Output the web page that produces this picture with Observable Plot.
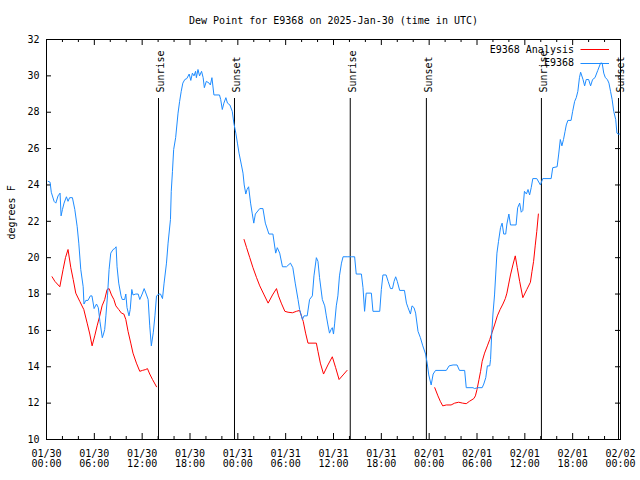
<!DOCTYPE html>
<html><head><meta charset="utf-8">
<script src="https://cdn.jsdelivr.net/npm/d3@7"></script>
<script src="https://cdn.jsdelivr.net/npm/@observablehq/plot@0.6"></script>
<style>html,body{margin:0;padding:0;background:#fff} svg{display:block}</style>
</head><body><div id="chart"></div>
<script>
const title = "Dew Point for E9368 on 2025-Jan-30 (time in UTC)";
const yLabel = "degrees F";
const startUTC = Date.UTC(2025, 0, 30);

// observed (hours since 01/30 00:00 UTC)
const obsHours = [0.2,0.45,0.6,0.95,1.17,1.45,1.7,1.83,2.0,2.2,2.5,2.7,2.9,3.25,3.55,3.85,4.05,4.3,4.6,4.7,4.93,5.2,5.5,5.7,5.97,6.27,6.5,6.7,7.0,7.15,7.3,7.45,7.65,7.85,8.06,8.35,8.56,8.73,8.85,9.06,9.35,9.5,9.8,9.95,10.1,10.35,10.5,10.7,10.85,11.2,11.5,11.7,12.0,12.25,12.55,12.75,12.95,13.15,13.4,13.6,13.8,14.1,14.3,14.55,14.75,15.05,15.25,15.55,15.65,15.8,15.95,16.2,16.5,16.7,16.9,17.1,17.35,17.6,17.9,18.1,18.3,18.5,18.7,18.8,19.0,19.2,19.45,19.65,19.8,20.05,20.4,20.55,20.75,21.0,21.7,21.85,22.05,22.25,22.5,22.7,23.0,23.3,23.5,23.75,23.95,24.15,24.45,24.65,24.8,25.0,25.15,25.35,25.6,25.8,26.0,26.2,26.75,27.15,27.45,27.9,28.4,28.75,28.95,29.25,29.6,30.1,30.6,30.9,31.2,31.55,31.75,32.1,32.3,32.7,33.0,33.35,33.55,33.85,34.05,34.25,34.6,34.9,35.1,35.3,35.5,35.7,35.85,36.0,36.15,36.35,36.55,36.75,37.0,37.2,37.8,38.25,38.65,38.85,39.5,39.7,39.9,40.1,40.75,40.95,41.8,42.0,42.2,42.6,42.85,43.15,43.4,43.6,43.8,44.0,44.3,44.9,45.15,45.35,45.65,45.85,46.1,46.3,46.6,46.9,47.2,47.55,47.75,47.95,48.25,48.5,48.8,50.15,50.5,51.0,51.5,51.8,52.45,52.65,53.5,53.7,54.1,54.65,54.85,55.1,55.3,55.6,55.7,55.85,56.0,56.2,56.35,56.5,56.7,56.95,57.15,57.35,57.6,57.75,58.0,58.2,58.9,59.1,59.35,59.55,59.75,59.95,60.2,60.4,60.6,60.8,61.0,61.5,61.95,62.25,63.3,63.5,64.05,64.25,64.45,64.65,64.85,65.05,65.2,65.4,65.8,66.0,66.25,66.45,66.65,66.85,67.0,67.3,67.5,67.7,68.0,68.25,68.5,68.8,69.15,69.5,69.7,69.9,70.1,70.35,70.55,70.75,70.95,71.15,71.4,71.55,71.7,71.9];
const obsValues = [24.2,24.15,23.6,23.1,23.0,23.4,23.55,22.3,22.65,23.0,23.35,23.1,23.3,23.3,22.65,21.7,20.8,19.35,18.4,17.45,17.65,17.65,17.9,17.9,17.2,17.45,17.25,16.5,15.6,15.8,16.05,16.8,17.9,19.35,20.25,20.45,20.5,20.6,19.5,18.6,17.9,17.7,17.7,18.0,17.25,16.8,17.15,18.25,17.95,18.0,18.0,17.7,18.0,18.3,17.95,17.7,16.25,15.15,15.9,16.8,17.9,18.0,18.0,17.75,18.6,19.7,20.8,22.1,23.65,24.75,25.95,26.6,27.95,28.6,29.15,29.6,29.8,29.85,30.1,29.75,30.15,30.0,30.25,29.9,30.35,30.0,30.25,29.9,29.35,29.7,29.6,29.5,29.9,28.95,28.95,28.7,28.15,28.5,28.8,28.5,28.4,28.05,27.4,26.85,26.3,25.75,25.1,24.65,24.0,23.5,23.75,23.9,23.0,22.45,21.9,22.4,22.7,22.7,21.9,21.3,21.3,20.25,20.55,20.25,19.5,19.5,19.7,19.45,18.6,17.7,17.15,16.6,16.8,16.8,17.7,17.9,19.0,20.0,19.8,18.9,17.7,17.35,16.8,16.3,15.85,16.05,16.15,15.8,16.4,17.35,17.9,19.0,19.7,20.05,20.05,20.05,20.05,19.1,19.1,18.35,17.05,18.05,18.05,17.05,17.05,18.25,19.05,19.05,18.7,18.3,18.3,18.7,18.95,18.7,18.2,18.2,17.5,17.25,16.9,17.35,17.25,16.95,15.95,15.6,15.15,14.7,14.2,13.55,13.0,13.6,13.8,13.8,14.05,14.1,14.1,13.8,13.8,12.85,12.85,12.8,12.85,12.85,13.05,13.4,14.05,14.05,14.4,15.85,16.9,17.95,19.1,20.25,20.9,21.65,21.9,21.3,21.3,21.85,22.4,21.8,21.8,22.75,23.0,22.5,22.6,23.65,23.5,23.75,23.45,23.85,24.35,24.35,24.0,24.35,24.35,24.95,25.0,25.7,26.5,26.15,26.5,26.95,27.3,27.55,27.55,28.05,28.6,28.8,29.15,29.9,30.2,29.8,29.45,29.8,29.8,29.45,29.8,29.9,30.3,30.7,30.7,30.15,29.9,29.8,29.6,29.15,28.7,28.05,27.6,26.85,26.8,26.8];

// analysis (null marks a gap)
const anaHours = [0.7,1.05,1.67,2.08,2.38,2.7,3.05,3.35,3.67,4.17,4.68,5.1,5.43,5.72,6.05,6.35,6.68,6.97,7.3,7.6,7.85,8.15,8.45,8.7,9.06,9.4,9.7,9.95,10.23,10.57,10.85,11.28,11.7,12.03,12.45,12.66,12.95,13.3,13.8,19,24.78,25.1,25.5,25.9,26.35,26.75,27.3,27.8,28.35,28.85,29.1,29.45,29.9,30.3,30.85,31.35,31.75,31.9,32.2,32.5,32.8,33.85,34.05,34.35,34.75,35.3,35.85,36.27,36.7,37.2,37.7,43,48.7,49.1,49.4,49.7,50.15,50.75,51.2,51.7,52.2,52.65,53.05,53.6,53.8,54.0,54.25,54.45,54.65,54.95,55.3,55.6,55.9,56.2,56.55,56.9,57.25,57.55,57.75,57.95,58.2,58.5,58.8,59.05,59.35,59.75,60.25,60.7,60.9,61.1,61.3,61.5,61.7];
const anaValues = [18.95,18.7,18.4,19.35,20.0,20.45,19.45,18.8,18.05,17.6,17.15,16.4,15.8,15.15,15.7,16.25,16.8,17.35,17.7,18.25,18.3,17.95,17.7,17.35,17.15,16.95,16.9,16.6,15.95,15.3,14.75,14.2,13.75,13.8,13.85,13.9,13.6,13.3,12.9,null,21.0,20.55,20.0,19.45,18.9,18.45,17.95,17.5,17.95,18.3,17.9,17.5,17.05,17.0,16.97,17.05,17.1,16.9,16.5,15.85,15.3,15.3,14.85,14.2,13.6,14.1,14.55,13.95,13.3,13.55,13.8,null,12.85,12.4,12.1,11.85,11.9,11.9,12.0,12.05,12.0,11.97,12.1,12.25,12.4,12.75,13.3,13.75,14.3,14.75,15.15,15.5,15.9,16.3,16.8,17.15,17.45,17.75,18.05,18.5,19.05,19.6,20.1,19.45,18.7,17.8,18.25,18.65,19.25,19.8,20.65,21.45,22.4];

const sunHours = [14.05, 23.58, 38.1, 47.65, 62.08, 71.75];
const sunLabels = ["Sunrise","Sunset","Sunrise","Sunset","Sunrise","Sunset"];

const xTickHours = [0,6,12,18,24,30,36,42,48,54,60,66,72];
const xTickLabels = ["01/30\n00:00","01/30\n06:00","01/30\n12:00","01/30\n18:00","01/31\n00:00","01/31\n06:00","01/31\n12:00","01/31\n18:00","02/01\n00:00","02/01\n06:00","02/01\n12:00","02/01\n18:00","02/02\n00:00"];
const xMinorHours = [2,4,8,10,14,16,20,22,26,28,32,34,38,40,44,46,50,52,56,58,62,64,68,70];
const yTicks = [10,12,14,16,18,20,22,24,26,28,30,32];

const seriesNames = ["E9368 Analysis", "E9368"];
const seriesColors = ["#ff0000", "#1e8cff"];

const toDate = h => new Date(startUTC + h * 3600000);
const obs = obsHours.map((h, i) => ({t: toDate(h), v: obsValues[i]}));
const ana = anaHours.map((h, i) => ({t: toDate(h), v: anaValues[i]}));
const sun = sunHours.map((h, i) => ({t: toDate(h), label: sunLabels[i]}));
const labelMap = new Map(xTickHours.map((h, i) => [+toDate(h), xTickLabels[i]]));

const W = 640, H = 480, mL = 46, mR = 20, mT = 39, mB = 41;
const innerW = W - mL - mR, innerH = H - mT - mB;
const FONT = "'DejaVu Sans Mono', 'Liberation Mono', monospace";

const legend = (index, scales, values, dims) => {
  const g = d3.create("svg:g").attr("font-family", FONT).attr("font-size", 10);
  const right = dims.width - dims.marginRight;
  seriesNames.forEach((name, i) => {
    const y = dims.marginTop + 10.3 + i * 13.7;
    g.append("text").attr("x", right - 46).attr("y", y).attr("dy", "0.32em")
      .attr("text-anchor", "end").attr("fill", "#000").text(name);
    g.append("line").attr("x1", right - 39.5).attr("x2", right - 11)
      .attr("y1", Math.round(y) + 0.5).attr("y2", Math.round(y) + 0.5)
      .attr("stroke", seriesColors[i]).attr("stroke-width", 1);
  });
  return g.node();
};

const chart = Plot.plot({
  width: W, height: H,
  marginLeft: mL, marginRight: mR, marginTop: mT, marginBottom: mB,
  style: {fontFamily: FONT, fontSize: "10px", color: "#000", background: "#fff"},
  x: {type: "utc", domain: [toDate(0), toDate(72)]},
  y: {domain: [10, 32]},
  marks: [
    Plot.axisX(xTickHours.map(toDate), {anchor: "bottom", tickSize: 0, tickPadding: 10, lineHeight: 1.03, tickFormat: d => labelMap.get(+d), label: null}),
    Plot.axisY(yTicks, {anchor: "left", tickSize: 0, tickPadding: 7, label: null}),
    Plot.tickX(xTickHours.map(toDate), {x: d => d, insetTop: innerH - 6, stroke: "#000"}),
    Plot.tickX(xMinorHours.map(toDate), {x: d => d, insetTop: innerH - 3, stroke: "#000"}),
    Plot.tickX(xTickHours.map(toDate), {x: d => d, insetBottom: innerH - 6, stroke: "#000"}),
    Plot.tickX(xMinorHours.map(toDate), {x: d => d, insetBottom: innerH - 3, stroke: "#000"}),
    Plot.tickY(yTicks, {y: d => d, insetRight: innerW - 5, stroke: "#000"}),
    Plot.tickY(yTicks, {y: d => d, insetLeft: innerW - 5, stroke: "#000"}),
    Plot.ruleX(sun, {x: "t", insetTop: 59, stroke: "#000", strokeWidth: 1}),
    Plot.text(sun, {x: "t", text: "label", frameAnchor: "top", dy: 53, dx: 2.5, rotate: -90, textAnchor: "start", lineAnchor: "middle", fill: "#000"}),
    Plot.line(ana, {x: "t", y: "v", stroke: seriesColors[0], strokeWidth: 1}),
    Plot.line(obs, {x: "t", y: "v", stroke: seriesColors[1], strokeWidth: 1}),
    Plot.frame({stroke: "#000"}),
    Plot.text([title], {text: d => d, frameAnchor: "top", dy: -19, lineAnchor: "middle", fill: "#000"}),
    Plot.text([yLabel], {text: d => d, frameAnchor: "left", dx: -35, rotate: -90, lineAnchor: "middle", fill: "#000"}),
    legend
  ]
});
document.getElementById("chart").appendChild(chart);
</script>
</body></html>
